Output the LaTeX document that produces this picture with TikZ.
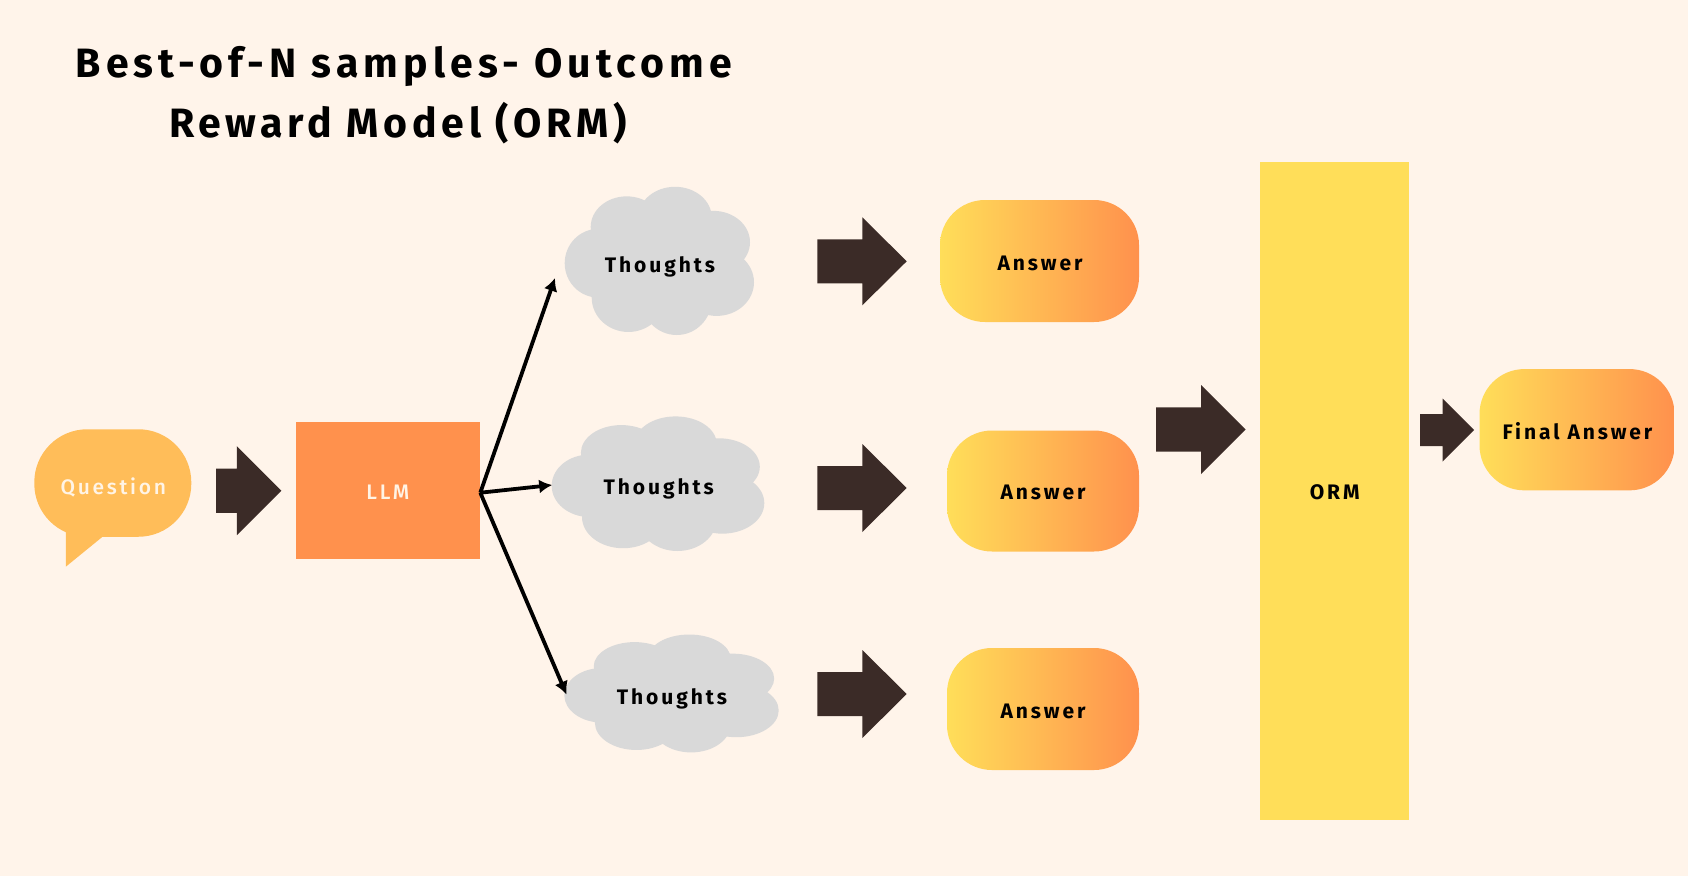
\documentclass[tikz,border=0pt]{standalone}
\usepackage{fontspec}
\setmainfont{Fira Sans}
\usetikzlibrary{arrows.meta}
\definecolor{bg}{HTML}{FFF4EA}
\definecolor{orng}{HTML}{FF914D}
\definecolor{yell}{HTML}{FFDE59}
\definecolor{dark}{HTML}{3B2B27}
\definecolor{cloudg}{HTML}{D9D9D9}
\definecolor{bubble}{HTML}{FFBD59}
\definecolor{soft}{HTML}{FFF4E6}
\newfontfamily\ttlfont[LetterSpace=11.5,BoldFont={Fira Sans Bold}]{Fira Sans}
\newfontfamily\ttlwide[LetterSpace=12.5,BoldFont={Fira Sans Bold}]{Fira Sans}
\newfontfamily\lblfont[LetterSpace=14,BoldFont={Fira Sans Bold}]{Fira Sans}
\newfontfamily\softfont[LetterSpace=13]{Fira Sans Medium}
\tikzset{
  answerbox/.style={rounded corners=45pt,left color=yell,right color=orng,draw=none,inner sep=0pt},
  lbl/.style={inner sep=0pt,font=\lblfont\fontsize{21}{25}\selectfont\bfseries,text=black},
  softlbl/.style={inner sep=0pt,font=\softfont\fontsize{21}{25}\selectfont,text=soft},
  ttl/.style={inner sep=0pt,font=\ttlfont\fontsize{41}{48}\selectfont\bfseries,text=black},
  ttlb/.style={inner sep=0pt,font=\ttlwide\fontsize{41}{48}\selectfont\bfseries,text=black},
  blockarrow/.style={fill=dark,draw=none},
  thinarrow/.style={black,line width=3.8pt,-{Latex[length=13pt,width=14pt]}},
}
% #1 left x, #2 head-base x, #3 tip x, #4 centre y, #5 head half height, #6 shaft half height
\newcommand{\blockarr}[6]{\fill[blockarrow] (#1,#4-#6) -- (#2,#4-#6) -- (#2,#4-#5) -- (#3,#4) -- (#2,#4+#5) -- (#2,#4+#6) -- (#1,#4+#6) -- cycle;}
% #1 xmin #2 ymin #3 xmax #4 ymax
\newcommand{\cloudshape}[4]{%
\begin{scope}[shift={(#1,#2)},xscale={(#3-#1)/568},yscale={(#4-#2)/388}]
\begin{scope}[shift={(-194,-70)}]
\fill[cloudg] (525,150) ellipse [x radius=110,y radius=80];
\fill[cloudg] (380,175) ellipse [x radius=108,y radius=80];
\fill[cloudg] (640,215) ellipse [x radius=110,y radius=82];
\fill[cloudg] (295,270) ellipse [x radius=101,y radius=90];
\fill[cloudg] (650,320) ellipse [x radius=112,y radius=88];
\fill[cloudg] (385,360) ellipse [x radius=110,y radius=90];
\fill[cloudg] (530,365) ellipse [x radius=105,y radius=93];
\fill[cloudg] (470,265) ellipse [x radius=220,y radius=145];
\end{scope}
\end{scope}}
\begin{document}
\begin{tikzpicture}[x=1pt,y=-1pt]
\useasboundingbox (0,0) rectangle (1688,876);
\fill[bg] (0,0) rectangle (1688,876);
% title
\node[ttlb] (title1) at (403.7,66) {Best-of-N samples- Outcome};
\node[ttl] (title2) at (398,123) {Reward Model (ORM)};
% question bubble
\fill[bubble] (65.8,515) -- (65.8,566.7) -- (102.6,536.7) -- (102.6,515) -- cycle;
\node[fill=bubble,rounded corners=53pt,minimum width=157pt,minimum height=107.5pt,inner sep=0pt] (bub) at (112.8,483) {};
\node[softlbl] (q) at (113.3,487) {Question};
\blockarr{216}{236.9}{281.3}{490.7}{44.5}{22.2}
% LLM
\node[fill=orng,minimum width=183.3pt,minimum height=137.3pt,inner sep=0pt] (llm) at (387.9,490.4) {};
\node[softlbl] (llmt) at (387.9,492.5) {LLM};
\coordinate (branch) at (480.3,492.7);
% clouds
\cloudshape{564.7}{186.8}{754}{335}
\cloudshape{551.7}{416.4}{764.3}{551}
\cloudshape{564.3}{634.5}{778.7}{752.4}
\node[lbl] (t1) at (660,267) {Thoughts};
\node[lbl] (t2) at (658.7,489) {Thoughts};
\node[lbl] (t3) at (672,699) {Thoughts};
\coordinate (c1) at (555,278);
\coordinate (c2) at (552.2,485);
\coordinate (c3) at (566.5,694.5);
\draw[thinarrow] (branch) -- (c1);
\draw[thinarrow] (branch) -- (c2);
\draw[thinarrow] (branch) -- (c3);
% block arrows to answers
\blockarr{817.3}{862.3}{906.7}{261.3}{44}{22}
\blockarr{817.3}{862.3}{906.7}{488}{44}{22}
\blockarr{817.3}{862.3}{906.7}{694}{44}{22}
% answers
\node[answerbox,minimum width=199pt,minimum height=122pt] (a1) at (1039.5,261) {};
\node[answerbox,minimum width=192pt,minimum height=121pt] (a2) at (1043,491) {};
\node[answerbox,minimum width=192pt,minimum height=122pt] (a3) at (1043,709) {};
\node[lbl] (a1t) at (1040,263.5) {Answer};
\node[lbl] (a2t) at (1043,492.5) {Answer};
\node[lbl] (a3t) at (1043,711) {Answer};
% ORM
\blockarr{1156}{1201}{1245.5}{429.5}{44.5}{22.2}
\node[fill=yell,minimum width=148.7pt,minimum height=658.5pt,inner sep=0pt] (orm) at (1334.7,491) {};
\node[lbl] (ormt) at (1334.7,492.5) {ORM};
\blockarr{1420}{1442.7}{1474}{430}{31.5}{16}
\node[answerbox,minimum width=195pt,minimum height=121.3pt] (final) at (1577,429.7) {};
\node[lbl] (finalt) at (1577.5,431.5) {Final Answer};
\end{tikzpicture}
\end{document}
